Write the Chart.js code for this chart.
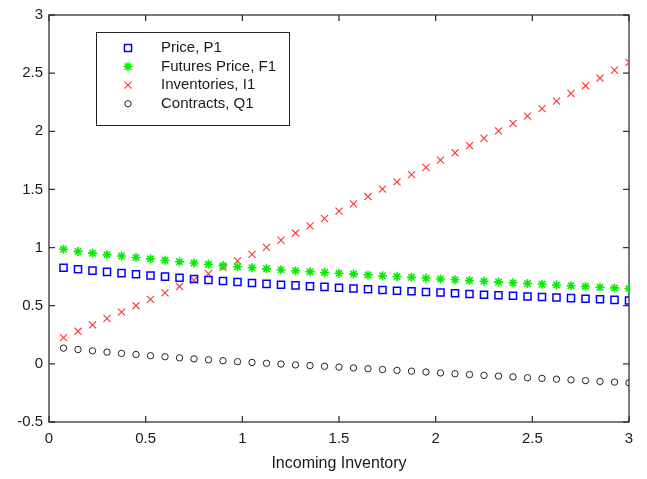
<!DOCTYPE html>
<html>
<head>
<meta charset="utf-8">
<script src="https://cdn.jsdelivr.net/npm/chart.js@4"></script>
<style>
  html, body { margin: 0; padding: 0; background: #fff; }
  canvas { display: block; }
</style>
</head>
<body>
<canvas id="chart" width="647" height="479"></canvas>
<script>
// Incoming inventory (x) and the four model outputs
const incoming = [0.075, 0.15, 0.225, 0.3, 0.375, 0.45, 0.525, 0.6, 0.675, 0.75,
  0.825, 0.9, 0.975, 1.05, 1.125, 1.2, 1.275, 1.35, 1.425, 1.5,
  1.575, 1.65, 1.725, 1.8, 1.875, 1.95, 2.025, 2.1, 2.175, 2.25,
  2.325, 2.4, 2.475, 2.55, 2.625, 2.7, 2.775, 2.85, 2.925, 3.0];

const price = [0.827, 0.814, 0.802, 0.791, 0.780, 0.770, 0.760, 0.750, 0.740, 0.730,
  0.721, 0.712, 0.704, 0.696, 0.688, 0.681, 0.675, 0.668, 0.662, 0.655,
  0.648, 0.641, 0.635, 0.629, 0.624, 0.618, 0.613, 0.607, 0.601, 0.595,
  0.590, 0.585, 0.580, 0.575, 0.570, 0.565, 0.560, 0.555, 0.550, 0.545];

const futures = [0.985, 0.967, 0.952, 0.939, 0.927, 0.915, 0.903, 0.891, 0.879, 0.867,
  0.856, 0.845, 0.835, 0.826, 0.817, 0.809, 0.801, 0.793, 0.786, 0.779,
  0.772, 0.765, 0.758, 0.751, 0.744, 0.737, 0.730, 0.723, 0.716, 0.710,
  0.703, 0.697, 0.690, 0.684, 0.678, 0.672, 0.666, 0.659, 0.653, 0.647];

const inventories = [0.225, 0.280, 0.335, 0.390, 0.445, 0.500, 0.555, 0.610, 0.665, 0.720,
  0.775, 0.830, 0.885, 0.942, 1.002, 1.063, 1.125, 1.187, 1.250, 1.313,
  1.376, 1.439, 1.502, 1.565, 1.627, 1.690, 1.752, 1.815, 1.877, 1.940,
  2.003, 2.067, 2.130, 2.195, 2.260, 2.325, 2.392, 2.458, 2.525, 2.592];

const contracts = [0.135, 0.123, 0.112, 0.101, 0.090, 0.080, 0.070, 0.061, 0.052, 0.043,
  0.035, 0.027, 0.019, 0.012, 0.005, -0.002, -0.009, -0.015, -0.021, -0.028,
  -0.035, -0.042, -0.049, -0.056, -0.063, -0.070, -0.078, -0.085, -0.092, -0.099,
  -0.105, -0.112, -0.119, -0.125, -0.132, -0.138, -0.144, -0.151, -0.157, -0.163];

const seriesLabels = ['Price, P1', 'Futures Price, F1', 'Inventories, I1', 'Contracts, Q1'];
const xTicks = [0, 0.5, 1, 1.5, 2, 2.5, 3];
const xTickLabels = ['0', '0.5', '1', '1.5', '2', '2.5', '3'];
const yTicks = [-0.5, 0, 0.5, 1, 1.5, 2, 2.5, 3];
const yTickLabels = ['-0.5', '0', '0.5', '1', '1.5', '2', '2.5', '3'];
const xTitle = 'Incoming Inventory';

const FONT = '"Liberation Sans", Arial, sans-serif';
const pts = ys => ys.map((y, i) => ({ x: incoming[i], y: y }));

// box with inward ticks on all four sides (matlab style)
const framePlugin = {
  id: 'frame',
  beforeDatasetsDraw(chart) {
    const { ctx, chartArea: a, scales } = chart;
    ctx.save();
    ctx.strokeStyle = '#333';
    ctx.lineWidth = 1.3;
    ctx.strokeRect(a.left, a.top, a.right - a.left, a.bottom - a.top);
    ctx.beginPath();
    const len = 6;
    scales.x.ticks.forEach(t => {
      const px = scales.x.getPixelForValue(t.value);
      ctx.moveTo(px, a.bottom); ctx.lineTo(px, a.bottom - len);
      ctx.moveTo(px, a.top); ctx.lineTo(px, a.top + len);
    });
    scales.y.ticks.forEach(t => {
      const py = scales.y.getPixelForValue(t.value);
      ctx.moveTo(a.left, py); ctx.lineTo(a.left + len, py);
      ctx.moveTo(a.right, py); ctx.lineTo(a.right - len, py);
    });
    ctx.stroke();
    ctx.restore();
  }
};

// legend box in the upper left of the plot
const legendPlugin = {
  id: 'boxLegend',
  afterDraw(chart) {
    const { ctx } = chart;
    const bx = 96, by = 32, bw = 193, bh = 93;
    ctx.save();
    ctx.fillStyle = '#fff';
    ctx.fillRect(bx, by, bw, bh);
    ctx.strokeStyle = '#222';
    ctx.lineWidth = 1;
    ctx.strokeRect(bx + 0.5, by + 0.5, bw, bh);
    ctx.font = '15px ' + FONT;
    ctx.textBaseline = 'middle';
    chart.data.datasets.forEach((ds, i) => {
      const y = 48 + i * 18.6;
      ctx.strokeStyle = ds.borderColor;
      ctx.fillStyle = 'rgba(0,0,0,0)';
      ctx.lineWidth = ds.borderWidth;
      Chart.helpers.drawPoint(ctx, {
        pointStyle: ds.pointStyle, rotation: 0,
        radius: ds.pointRadius, borderWidth: ds.borderWidth
      }, 128, y);
      ctx.fillStyle = '#1a1a1a';
      ctx.fillText(ds.label, 161, y);
    });
    ctx.restore();
  }
};

new Chart(document.getElementById('chart'), {
  type: 'scatter',
  data: {
    datasets: [
      { label: seriesLabels[0], data: pts(price), pointStyle: 'rect', pointRadius: 5,
        borderColor: '#0000ff', backgroundColor: 'rgba(0,0,0,0)', borderWidth: 1.5 },
      { label: seriesLabels[1], data: pts(futures), pointStyle: 'star', pointRadius: 4.5,
        borderColor: '#00ee00', backgroundColor: 'rgba(0,0,0,0)', borderWidth: 1.6 },
      { label: seriesLabels[2], data: pts(inventories), pointStyle: 'crossRot', pointRadius: 5,
        borderColor: 'rgb(255,50,50)', backgroundColor: 'rgba(0,0,0,0)', borderWidth: 1.1 },
      { label: seriesLabels[3], data: pts(contracts), pointStyle: 'circle', pointRadius: 3.2,
        borderColor: '#222', backgroundColor: 'rgba(0,0,0,0)', borderWidth: 1 }
    ]
  },
  options: {
    responsive: false,
    animation: false,
    devicePixelRatio: 1,
    layout: { padding: { top: 9, right: 18, left: 0, bottom: 0 } },
    plugins: { legend: { display: false }, tooltip: { enabled: false } },
    scales: {
      x: {
        type: 'linear', min: 0, max: 3,
        afterBuildTicks: s => { s.ticks = xTicks.map(v => ({ value: v })); },
        afterFit: s => { s.height = 57; },
        grid: { display: false, drawTicks: false },
        border: { display: false },
        ticks: { padding: 8, color: '#1a1a1a', font: { family: FONT, size: 15 },
                 callback: (v, i) => xTickLabels[i] },
        title: { display: true, text: xTitle, color: '#1a1a1a',
                 font: { family: FONT, size: 16 }, padding: { top: 0, bottom: 6 } }
      },
      y: {
        type: 'linear', min: -0.5, max: 3,
        afterBuildTicks: s => { s.ticks = yTicks.map(v => ({ value: v })); },
        afterFit: s => { s.width = 49; },
        grid: { display: false, drawTicks: false },
        border: { display: false },
        ticks: { padding: 6, color: '#1a1a1a', font: { family: FONT, size: 15 },
                 callback: (v, i) => yTickLabels[i] }
      }
    }
  },
  plugins: [framePlugin, legendPlugin]
});
</script>
</body>
</html>
